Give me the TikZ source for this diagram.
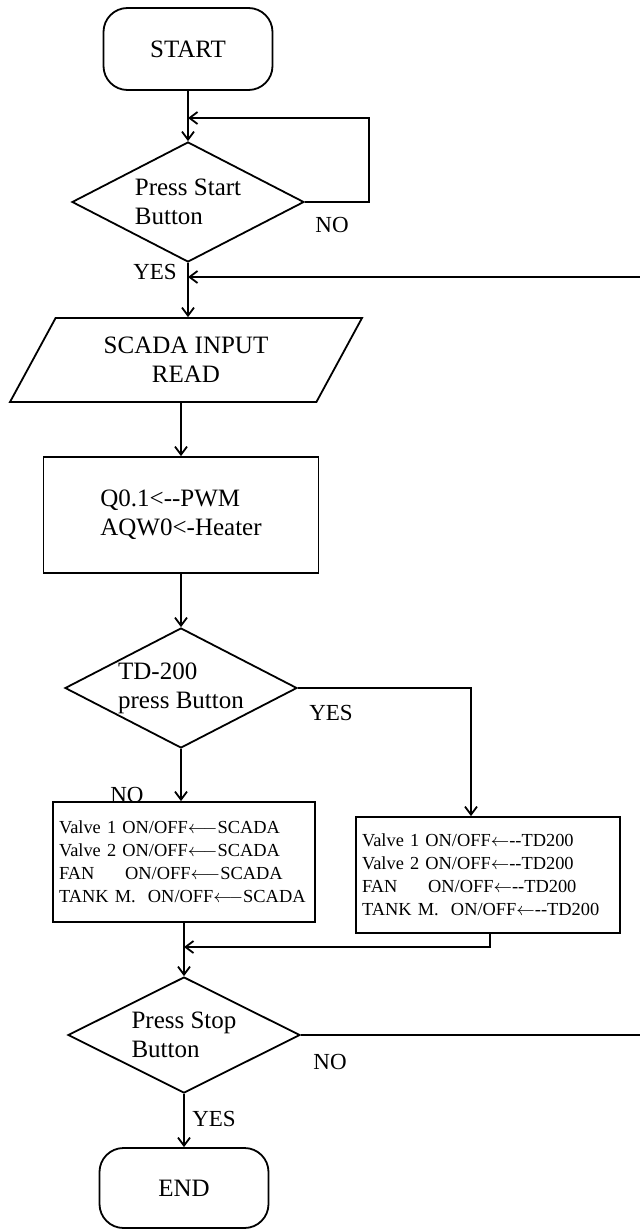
\documentclass[tikz,border=0pt]{standalone}
\usepackage{fontspec}
\setmainfont{Liberation Serif}
\usetikzlibrary{shapes.geometric,arrows.meta}

\tikzset{
  base/.style={draw, line width=0.9pt, inner sep=0pt, font=\fontsize{12.5}{14.5}\selectfont},
  terminal/.style={base, rectangle, rounded corners=12pt, minimum width=84.5pt, minimum height=41pt},
  decision/.style={base, diamond, aspect=2, align=left, minimum width=116pt, minimum height=60pt},
  inout/.style={base, trapezium, trapezium left angle=45, trapezium right angle=135,
    trapezium stretches body, align=center, minimum width=176pt, minimum height=42pt},
  process/.style={base, rectangle, align=left},
  setbox/.style={base, rectangle, align=left, text width=125pt, inner xsep=3pt,
    font=\fontsize{9.2}{11.5}\selectfont},
  answer/.style={font=\fontsize{11.5}{13}\selectfont},
  flow/.style={line width=0.9pt, -{Straight Barb[length=4pt,width=6pt]}}
}

\begin{document}
\begin{tikzpicture}[x=0.5pt, y=-0.5pt]
\useasboundingbox (0,0) rectangle (640,1230);
\clip (0,0) rectangle (640,1230);
% nodes of the flow
\node[terminal] (start) at (188,49) {START};
\node[decision] (startbtn) at (188,202) {Press Start\\Button};
\node[inout] (scada) at (186,360) {SCADA INPUT\\READ};
\node[process, minimum width=137.5pt, minimum height=58pt] (pwm) at (181,515)
  {Q0.1<-{}-PWM\\AQW0<-Heater};
\node[decision] (tdbtn) at (181,688) {TD-200\\press Button};
\node[setbox, minimum height=60pt] (bysc) at (184,862)
  {Valve 1 ON/OFF$\longleftarrow$SCADA\\Valve 2 ON/OFF$\longleftarrow$SCADA\\FAN\quad\ \ ON/OFF$\longleftarrow$SCADA\\TANK M.\ \ ON/OFF$\longleftarrow$SCADA};
\node[setbox, minimum height=58pt, text width=126pt] (bytd) at (488,875)
  {Valve 1 ON/OFF$\leftarrow$-{}-TD200\\Valve 2 ON/OFF$\leftarrow$-{}-TD200\\FAN\quad\ \ ON/OFF$\leftarrow$-{}-TD200\\TANK M.\ \ ON/OFF$\leftarrow$-{}-TD200};
\node[decision, minimum height=58pt] (stopbtn) at (184,1035) {Press Stop\\Button};
\node[terminal, minimum height=40pt] (end) at (184,1188) {END};

% helper points
\coordinate (wait) at (369,118);
\coordinate (back) at (660,277);
\coordinate (join) at (184,947);

% connectors
\draw[flow] (start) -- (startbtn);
\draw[flow] (startbtn.east) -| (wait) -- (startbtn.north |- wait);
\draw[flow] (startbtn.south) -- (startbtn.south |- scada.north);
\draw[flow] (pwm.north |- scada.south) -- (pwm.north);
\draw[flow] (pwm) -- (tdbtn);
\draw[flow] (tdbtn.east) -| ([xshift=-8.5pt]bytd.north);
\draw[flow] (tdbtn.south) -- (tdbtn.south |- bysc.north);
\draw[flow] (bysc.south) -- (stopbtn.north);
\draw[flow] ([xshift=1pt]bytd.south) |- (join);
\draw[flow] (stopbtn.east) -| (back) -- (startbtn.south |- back);
\draw[flow] (stopbtn) -- (end);

% branch labels
\node[answer] (no1) at (332,225) {NO};
\node[answer] (yes1) at (155,272) {YES};
\node[answer] (yes2) at (331,713) {YES};
\node[answer] (no2) at (127,795) {NO};
\node[answer] (no3) at (330,1062) {NO};
\node[answer] (yes3) at (214,1119) {YES};
\end{tikzpicture}
\end{document}
